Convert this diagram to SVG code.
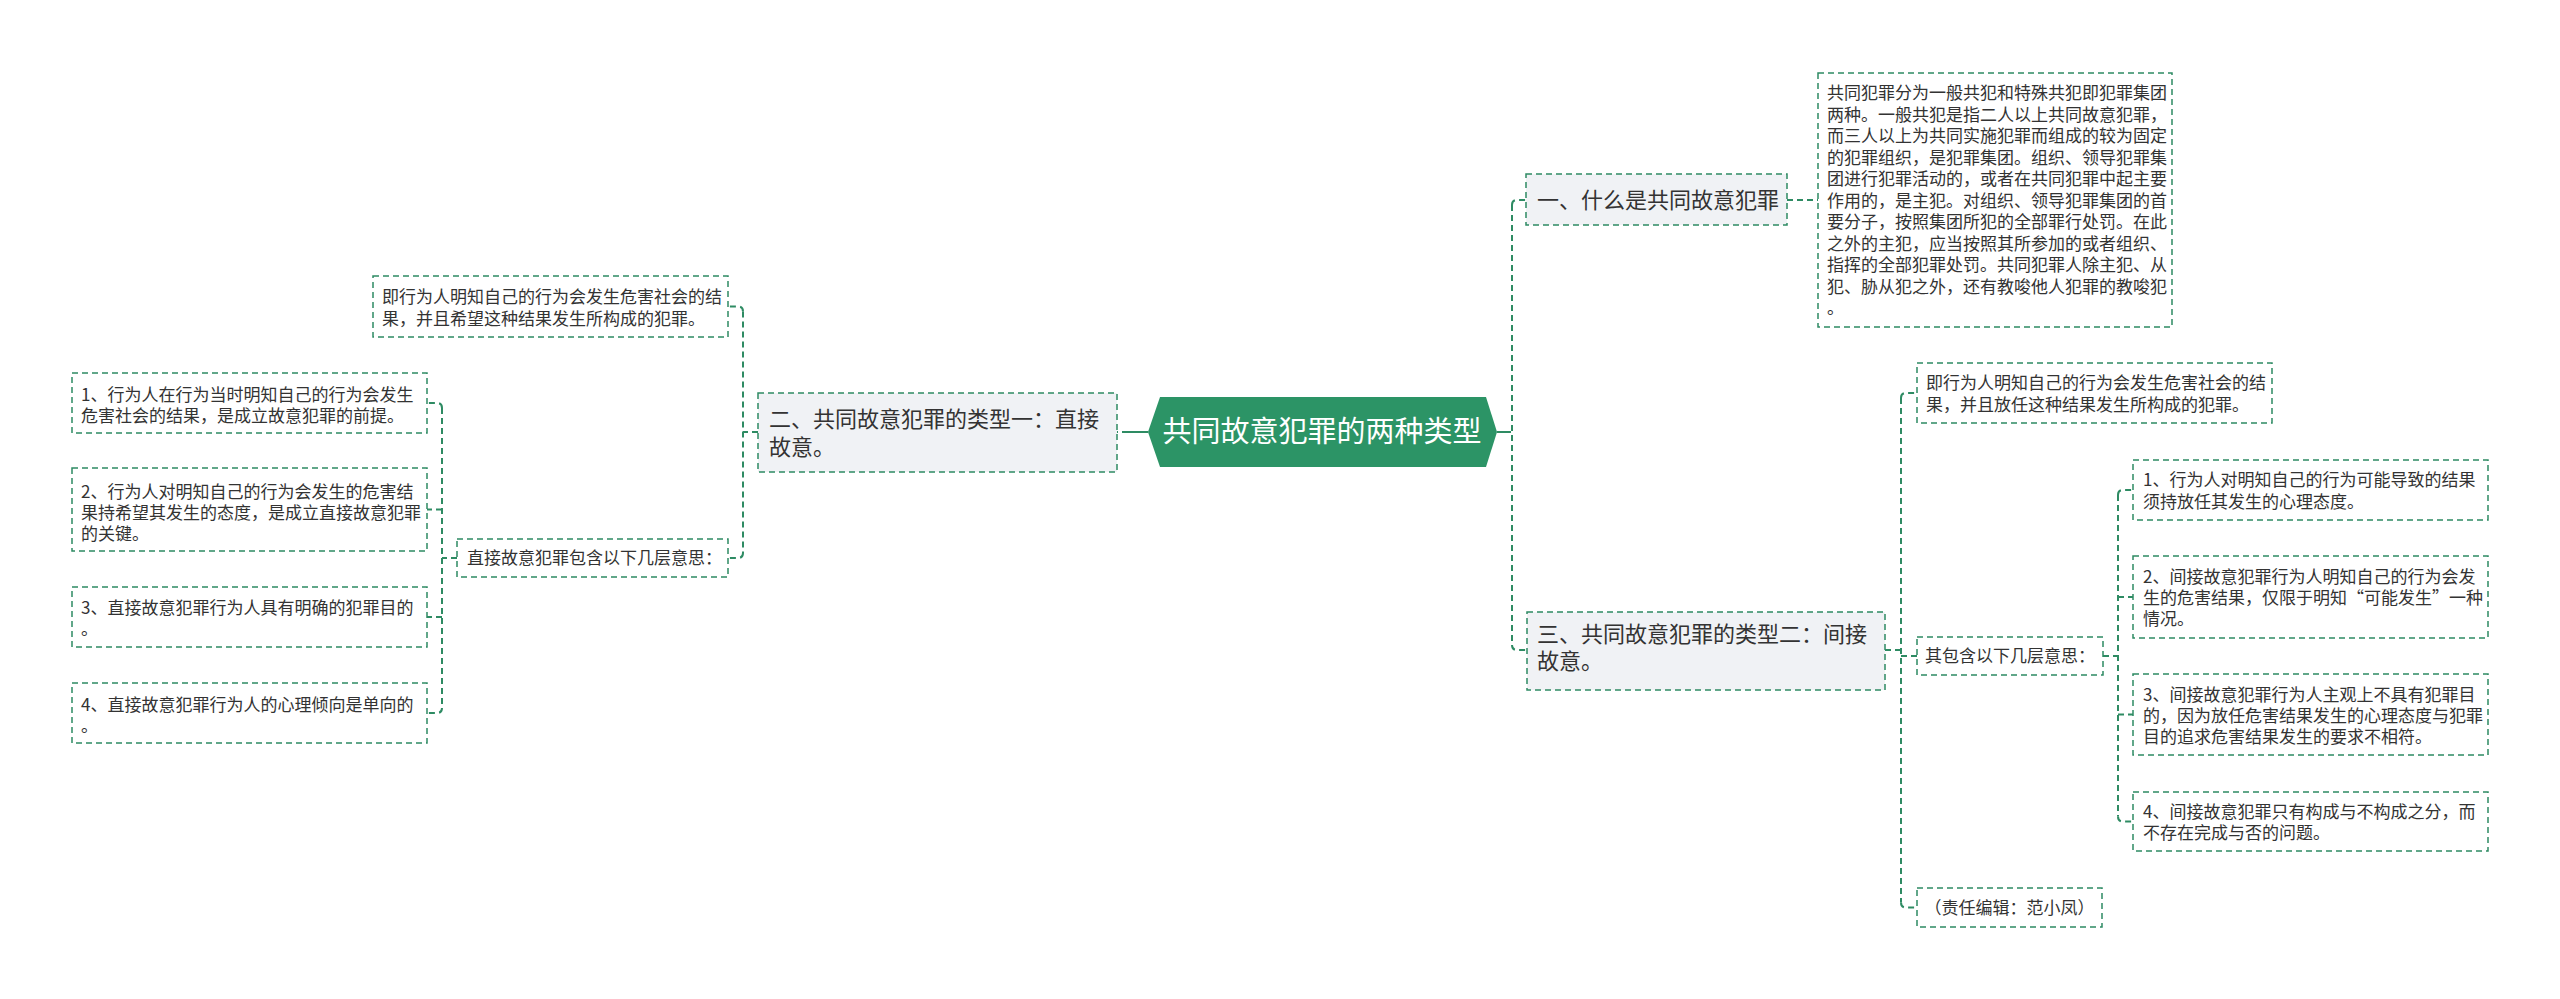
<svg xmlns="http://www.w3.org/2000/svg" width="2560" height="999" viewBox="0 0 2560 999">
<style>
text{font-family:"Noto Sans CJK SC","Microsoft YaHei",sans-serif;fill:#333333}
.s{font-size:17px}
.m{font-size:22px}
.box{fill:#ffffff;stroke:#2e8b63;stroke-width:1.5;stroke-dasharray:6 4}
.topic{fill:#f0f2f5;stroke:#2e8b63;stroke-width:1.5;stroke-dasharray:6 4}
.ln{fill:none;stroke:#2e8b63;stroke-width:2;stroke-dasharray:6 4}
.solid{fill:none;stroke:#2e8b63;stroke-width:2}
</style>
<rect width="2560" height="999" fill="#ffffff"/>
<g id="connectors">
<path class="solid" d="M1148,432 H1128"/>
<path class="ln" d="M1128,432 H1117"/>
<path class="solid" d="M1497,432 H1511"/>
<path class="ln" d="M1512,205 V645"/>
<path class="ln" d="M1512,205 Q1512,200 1517,200 H1526"/>
<path class="ln" d="M1512,645 Q1512,650 1517,650 H1527"/>
<path class="ln" d="M1787,200 H1818"/>
<path class="ln" d="M758,432 H743"/>
<path class="ln" d="M743,311.5 V553"/>
<path class="ln" d="M743,311.5 Q743,306.5 738,306.5 H728"/>
<path class="ln" d="M743,553 Q743,558 738,558 H728"/>
<path class="ln" d="M457,558 H442"/>
<path class="ln" d="M442,408 V708"/>
<path class="ln" d="M442,408 Q442,403 437,403 H427"/>
<path class="ln" d="M442,509.5 H427"/>
<path class="ln" d="M442,617 H427"/>
<path class="ln" d="M442,708 Q442,713 437,713 H427"/>
<path class="ln" d="M1885,650 H1901"/>
<path class="ln" d="M1901,398 V902.5"/>
<path class="ln" d="M1901,398 Q1901,393 1906,393 H1917"/>
<path class="ln" d="M1901,656 H1917"/>
<path class="ln" d="M1901,902.5 Q1901,907.5 1906,907.5 H1917"/>
<path class="ln" d="M2103,656 H2118"/>
<path class="ln" d="M2118,495 V816.5"/>
<path class="ln" d="M2118,495 Q2118,490 2123,490 H2133"/>
<path class="ln" d="M2118,597 H2133"/>
<path class="ln" d="M2118,714.5 H2133"/>
<path class="ln" d="M2118,816.5 Q2118,821.5 2123,821.5 H2133"/>
</g>
<g id="root">
<polygon points="1148,432 1160,397 1486,397 1497,432 1486,467 1160,467" fill="#2c9466"/>
<text x="1322" y="442" font-size="29" text-anchor="middle" style="fill:#ffffff">共同故意犯罪的两种类型</text>
</g>
<g id="n1">
<rect class="topic" x="1526" y="174" width="261" height="51"/>
<text class="m" x="1537" y="208">一、什么是共同故意犯罪</text>
</g>
<g id="n1-1">
<rect class="box" x="1818" y="73" width="354" height="254"/>
<text class="s" x="1827" y="99">共同犯罪分为一般共犯和特殊共犯即犯罪集团</text>
<text class="s" x="1827" y="120.5">两种。一般共犯是指二人以上共同故意犯罪，</text>
<text class="s" x="1827" y="142">而三人以上为共同实施犯罪而组成的较为固定</text>
<text class="s" x="1827" y="163.5">的犯罪组织，是犯罪集团。组织、领导犯罪集</text>
<text class="s" x="1827" y="185">团进行犯罪活动的，或者在共同犯罪中起主要</text>
<text class="s" x="1827" y="206.5">作用的，是主犯。对组织、领导犯罪集团的首</text>
<text class="s" x="1827" y="228">要分子，按照集团所犯的全部罪行处罚。在此</text>
<text class="s" x="1827" y="249.5">之外的主犯，应当按照其所参加的或者组织、</text>
<text class="s" x="1827" y="271">指挥的全部犯罪处罚。共同犯罪人除主犯、从</text>
<text class="s" x="1827" y="292.5">犯、胁从犯之外，还有教唆他人犯罪的教唆犯</text>
<text class="s" x="1827" y="314">。</text>
</g>
<g id="n2">
<rect class="topic" x="758" y="393" width="359" height="79"/>
<text class="m" x="769" y="427">二、共同故意犯罪的类型一：直接</text>
<text class="m" x="769" y="455">故意。</text>
</g>
<g id="n2-1">
<rect class="box" x="373" y="276" width="355" height="61"/>
<text class="s" x="382" y="303">即行为人明知自己的行为会发生危害社会的结</text>
<text class="s" x="382" y="324.5">果，并且希望这种结果发生所构成的犯罪。</text>
</g>
<g id="n2-2">
<rect class="box" x="457" y="539" width="271" height="38"/>
<text class="s" x="467" y="564">直接故意犯罪包含以下几层意思：</text>
</g>
<g id="n2-2-1">
<rect class="box" x="72" y="373" width="355" height="60"/>
<text class="s" x="81" y="401">1、行为人在行为当时明知自己的行为会发生</text>
<text class="s" x="81" y="422">危害社会的结果，是成立故意犯罪的前提。</text>
</g>
<g id="n2-2-2">
<rect class="box" x="72" y="468" width="355" height="83"/>
<text class="s" x="81" y="498">2、行为人对明知自己的行为会发生的危害结</text>
<text class="s" x="81" y="519">果持希望其发生的态度，是成立直接故意犯罪</text>
<text class="s" x="81" y="540">的关键。</text>
</g>
<g id="n2-2-3">
<rect class="box" x="72" y="587" width="355" height="60"/>
<text class="s" x="81" y="614">3、直接故意犯罪行为人具有明确的犯罪目的</text>
<text class="s" x="81" y="635">。</text>
</g>
<g id="n2-2-4">
<rect class="box" x="72" y="683" width="355" height="60"/>
<text class="s" x="81" y="711">4、直接故意犯罪行为人的心理倾向是单向的</text>
<text class="s" x="81" y="732">。</text>
</g>
<g id="n3">
<rect class="topic" x="1527" y="612" width="358" height="78"/>
<text class="m" x="1537" y="642">三、共同故意犯罪的类型二：间接</text>
<text class="m" x="1537" y="669">故意。</text>
</g>
<g id="n3-1">
<rect class="box" x="1917" y="363" width="355" height="60"/>
<text class="s" x="1926" y="389">即行为人明知自己的行为会发生危害社会的结</text>
<text class="s" x="1926" y="411">果，并且放任这种结果发生所构成的犯罪。</text>
</g>
<g id="n3-2">
<rect class="box" x="1917" y="637" width="186" height="38"/>
<text class="s" x="1925" y="662">其包含以下几层意思：</text>
</g>
<g id="n3-2-1">
<rect class="box" x="2133" y="460" width="355" height="60"/>
<text class="s" x="2143" y="486">1、行为人对明知自己的行为可能导致的结果</text>
<text class="s" x="2143" y="508">须持放任其发生的心理态度。</text>
</g>
<g id="n3-2-2">
<rect class="box" x="2133" y="556" width="355" height="82"/>
<text class="s" x="2143" y="583">2、间接故意犯罪行为人明知自己的行为会发</text>
<text class="s" x="2143" y="604">生的危害结果，仅限于明知“可能发生”一种</text>
<text class="s" x="2143" y="625">情况。</text>
</g>
<g id="n3-2-3">
<rect class="box" x="2133" y="674" width="355" height="81"/>
<text class="s" x="2143" y="701">3、间接故意犯罪行为人主观上不具有犯罪目</text>
<text class="s" x="2143" y="722">的，因为放任危害结果发生的心理态度与犯罪</text>
<text class="s" x="2143" y="743">目的追求危害结果发生的要求不相符。</text>
</g>
<g id="n3-2-4">
<rect class="box" x="2133" y="792" width="355" height="59"/>
<text class="s" x="2143" y="818">4、间接故意犯罪只有构成与不构成之分，而</text>
<text class="s" x="2143" y="839">不存在完成与否的问题。</text>
</g>
<g id="n3-3">
<rect class="box" x="1917" y="888" width="185" height="39"/>
<text class="s" x="2009.5" y="914" text-anchor="middle">（责任编辑：范小凤）</text>
</g>
</svg>
